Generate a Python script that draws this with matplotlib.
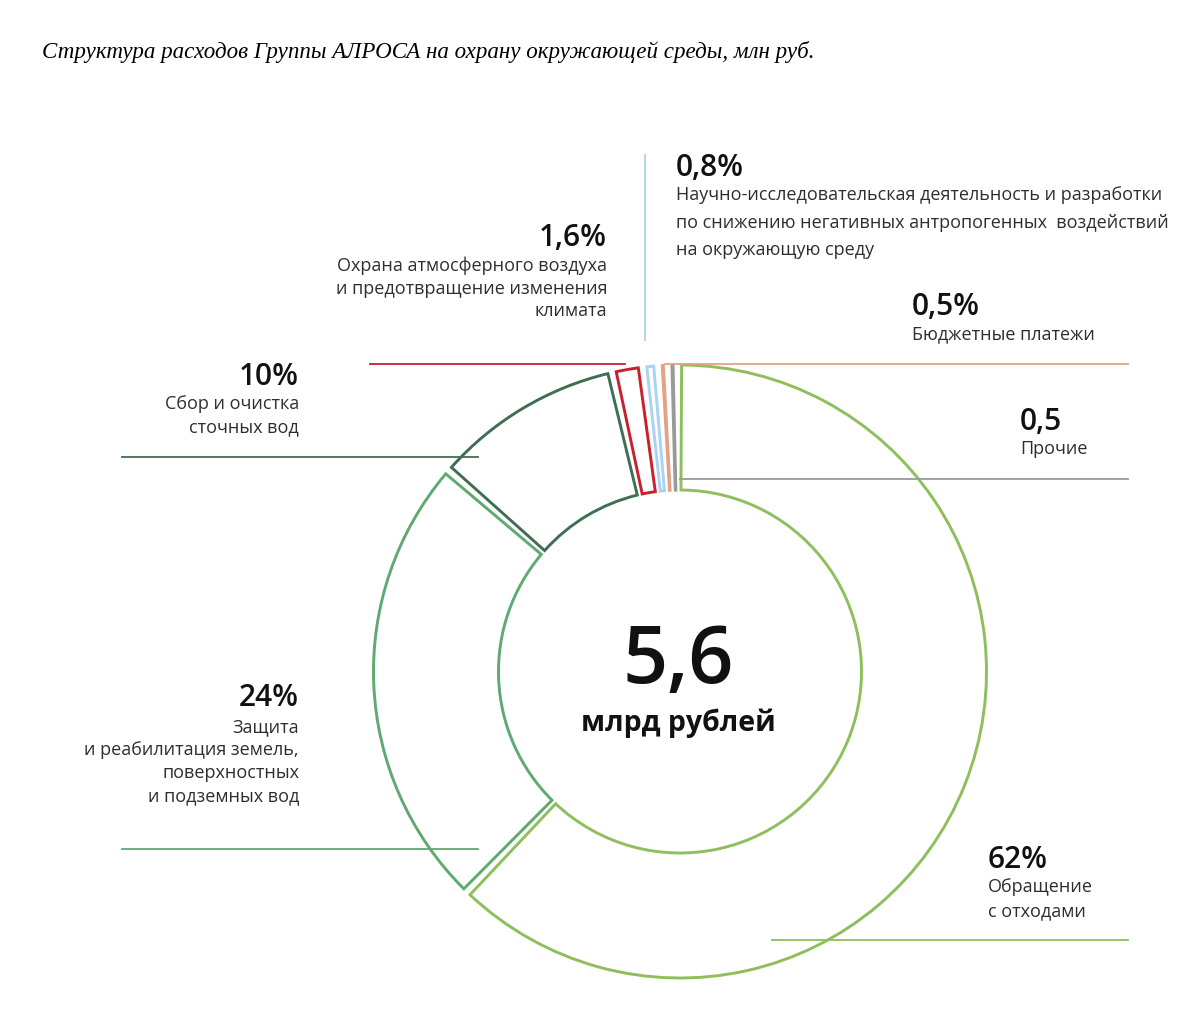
import matplotlib
matplotlib.use("Agg")
import matplotlib.pyplot as plt

# ---- data ----
categories = [
    "Обращение\nс отходами",
    "Защита\nи реабилитация земель,\nповерхностных\nи подземных вод",
    "Сбор и очистка\nсточных вод",
    "Охрана атмосферного воздуха\nи предотвращение изменения\nклимата",
    "Научно-исследовательская деятельность и разработки\nпо снижению негативных антропогенных  воздействий\nна окружающую среду",
    "Бюджетные платежи",
    "Прочие",
]
values = [62, 24, 10, 1.6, 0.8, 0.5, 0.5]
value_labels = ["62%", "24%", "10%", "1,6%", "0,8%", "0,5%", "0,5"]
colors = ["#8fbe5c", "#5fa972", "#3f6f52", "#c8202c", "#a9d3f2", "#e3a284", "#9a9a9a"]
total_label = "5,6"
total_unit = "млрд рублей"
title = "Структура расходов Группы АЛРОСА на охрану окружающей среды, млн руб."

W, H = 1200, 1011
fig = plt.figure(figsize=(W / 100, H / 100), dpi=100)
ax = fig.add_axes([0, 0, 1, 1])

def Y(y):
    return H - y

cx, cy = 680, 671.5
r_out, r_in = 306.5, 181.5
wedges, _ = ax.pie(values, startangle=90.5, counterclock=False, center=(cx, Y(cy)),
                   radius=r_out, colors=["white"] * len(values),
                   wedgeprops=dict(width=r_out - r_in, linewidth=2.1, joinstyle="miter"),
                   frame=True)
pad = 0.8
for w, c in zip(wedges, colors):
    w.set_edgecolor(c)
    w.set_facecolor("white")
    t1, t2 = w.theta1, w.theta2
    w.set_theta1(t1 + pad)
    w.set_theta2(t2 - pad)
ax.set_xlim(0, W)
ax.set_ylim(0, H)
ax.set_aspect("auto")
ax.axis("off")

# leader lines
lw = 1.3
ax.plot([370, 625], [Y(364), Y(364)], color=colors[3], lw=lw)
ax.plot([645, 645], [Y(155), Y(340)], color=colors[4], lw=lw)
ax.plot([665, 1128], [Y(364), Y(364)], color=colors[5], lw=lw)
ax.plot([680, 1128], [Y(479), Y(479)], color=colors[6], lw=lw)
ax.plot([122, 478], [Y(457), Y(457)], color=colors[2], lw=lw)
ax.plot([122, 478], [Y(849), Y(849)], color=colors[1], lw=lw)
ax.plot([772, 1128], [Y(940), Y(940)], color=colors[0], lw=lw)

fam = ["Open Sans", "DejaVu Sans"]
pfont = dict(family=fam, fontsize=21.5, fontweight="semibold", color="#111111")
bfont = dict(family=fam, fontsize=13.0, color="#2e2e2e")

# label positions: (x, y_pct_center, first_line_center, line_step, ha)
pos = [
    (988, 860, 887, 24, "left"),
    (299, 698, 727, 23, "right"),
    (299, 377, 404, 23, "right"),
    (607, 238, 266, 22.5, "right"),
    (676, 168, 195, 27.5, "left"),
    (912, 307, 334, 23, "left"),
    (1020, 422, 449, 23, "left"),
]
for (x, yp, y0, step, ha), pl, cat in zip(pos, value_labels, categories):
    ax.text(x, Y(yp), pl, ha=ha, va="center", **pfont)
    for i, line in enumerate(cat.split("\n")):
        ax.text(x, Y(y0 + i * step), line, ha=ha, va="center", **bfont)

ax.text(678, Y(662), total_label, ha="center", va="center",
        family=fam, fontsize=57, fontweight="semibold", color="#111111")
ax.text(678, Y(723), total_unit, ha="center", va="center",
        family=fam, fontsize=20.5, fontweight="bold", color="#111111")

ax.text(42, Y(52), title, ha="left", va="center", family=["Liberation Serif", "DejaVu Serif"],
        style="italic", fontsize=16.6, color="#000000")

fig.savefig("out.png", dpi=100, facecolor="white")
